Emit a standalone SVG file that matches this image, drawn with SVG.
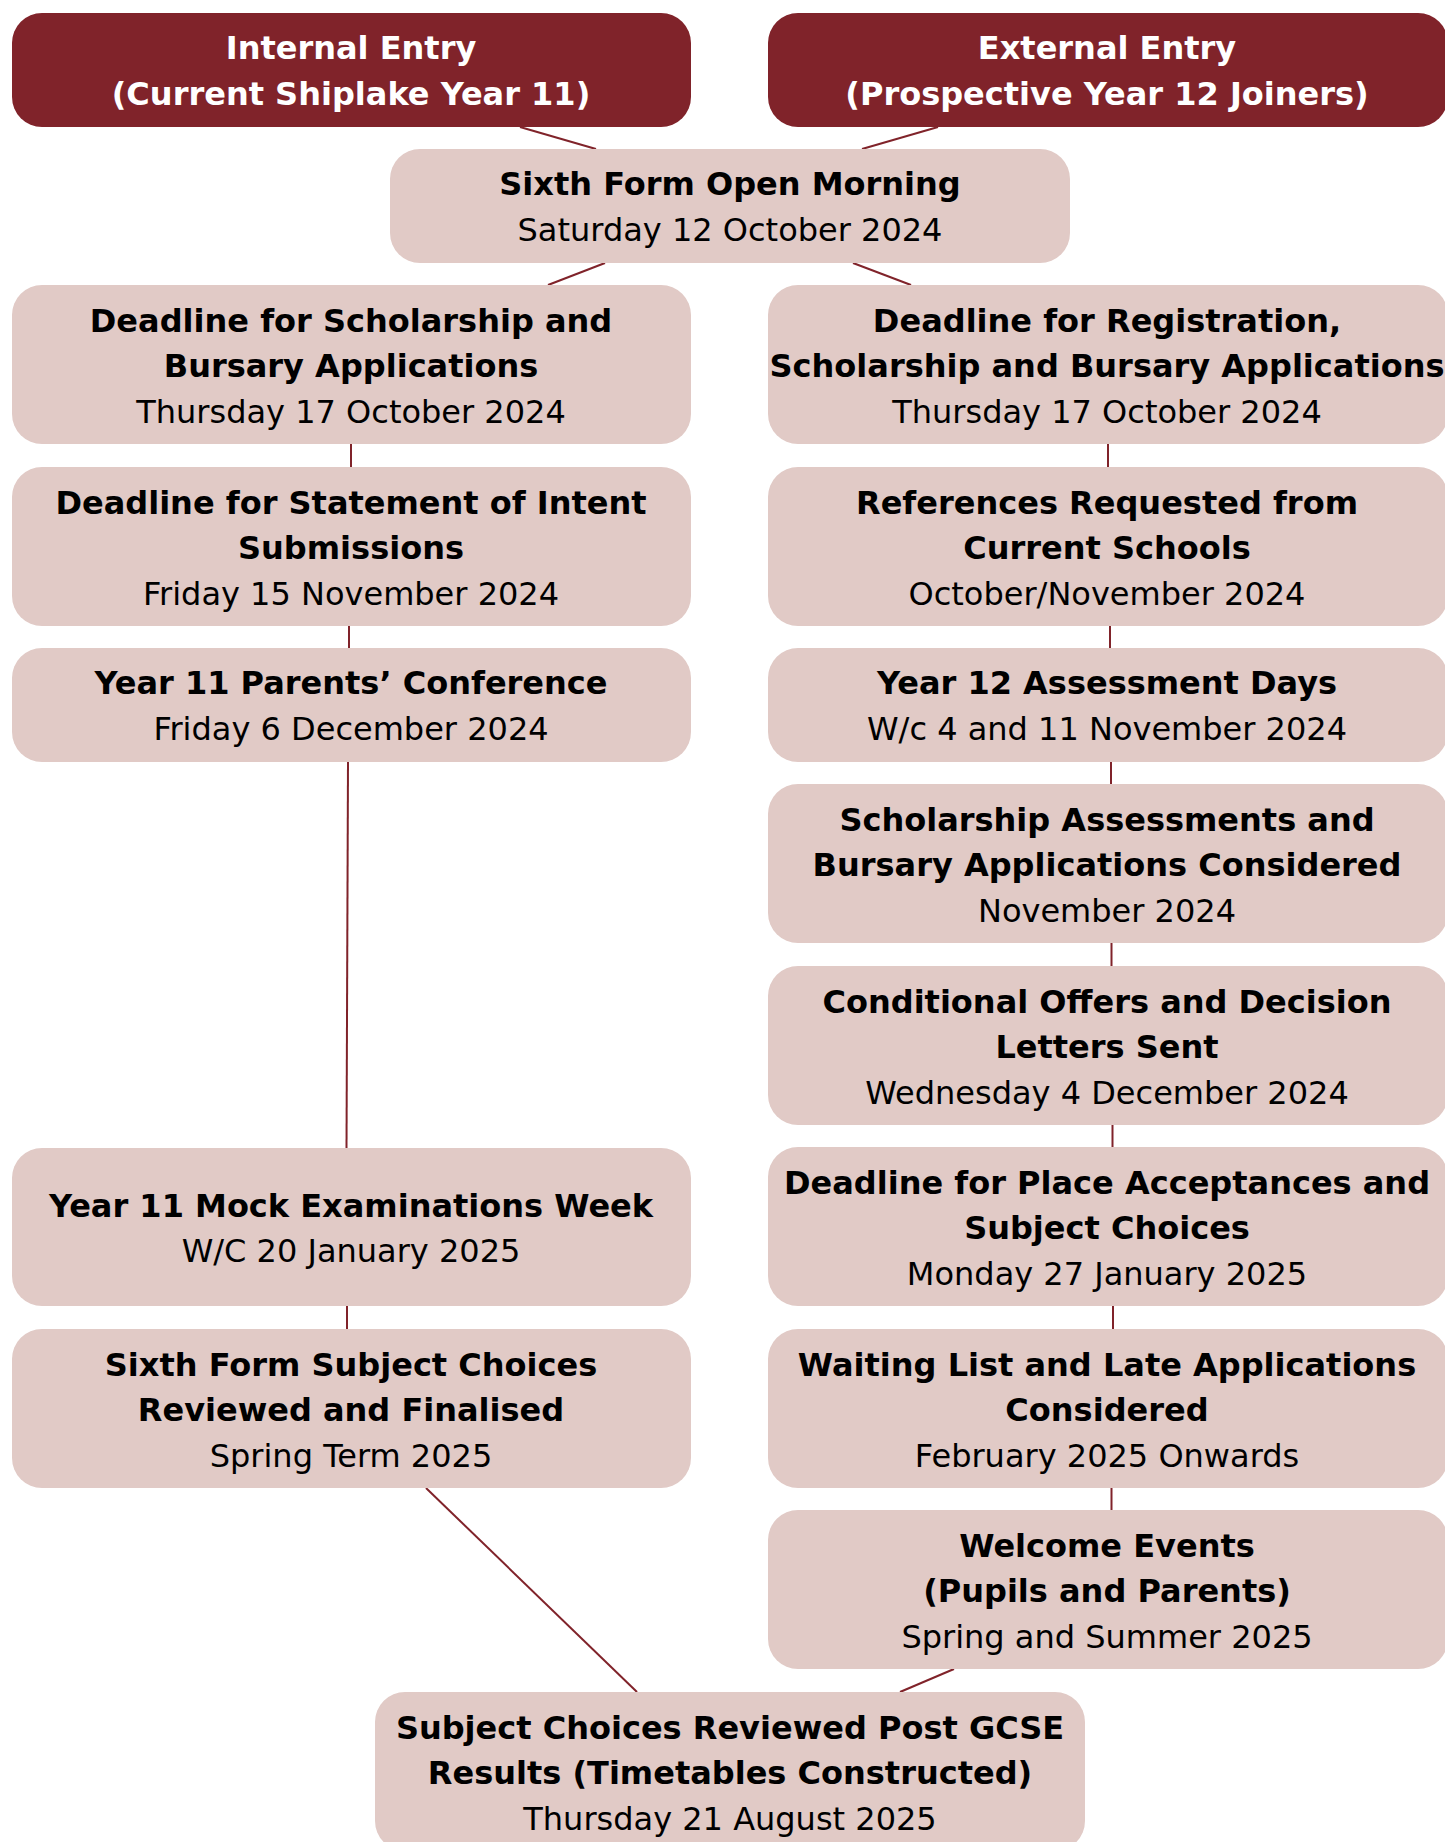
<svg xmlns="http://www.w3.org/2000/svg" width="1445" height="1842" viewBox="0 0 1445 1842">
<style>
.dark{fill:#80232A}
.light{fill:#E1CAC6}
text{font-family:"DejaVu Sans",Verdana,sans-serif;font-size:32px;text-anchor:middle}
.b{font-weight:bold;fill:#000}
.r{font-weight:normal;fill:#000}
.w{font-weight:bold;fill:#fff}
#connectors line{stroke:#80232A;stroke-width:2}
</style>
<rect width="1445" height="1842" fill="#fff"/>
<g id="connectors">
<line x1="520" y1="127" x2="596" y2="149"/>
<line x1="938" y1="127" x2="862" y2="149"/>
<line x1="605" y1="263" x2="548" y2="285"/>
<line x1="853" y1="263" x2="911" y2="285"/>
<line x1="351" y1="444" x2="351" y2="467"/>
<line x1="349" y1="626" x2="349" y2="648"/>
<line x1="348" y1="762" x2="346.5" y2="1148"/>
<line x1="347" y1="1306" x2="347" y2="1329"/>
<line x1="426" y1="1488" x2="637" y2="1692"/>
<line x1="1108" y1="444" x2="1108" y2="467"/>
<line x1="1110" y1="626" x2="1110" y2="648"/>
<line x1="1111" y1="762" x2="1111" y2="784"/>
<line x1="1111.5" y1="943" x2="1111.5" y2="966"/>
<line x1="1112.5" y1="1125" x2="1112.5" y2="1147"/>
<line x1="1113" y1="1306" x2="1113" y2="1329"/>
<line x1="1111.5" y1="1488" x2="1111.5" y2="1510"/>
<line x1="954" y1="1669" x2="900" y2="1692"/>
</g>
<g id="internal-entry">
<rect class="dark" x="12" y="13" width="679" height="114" rx="30"/>
<text class="w" x="351" y="59">Internal Entry</text>
<text class="w" x="351" y="105">(Current Shiplake Year 11)</text>
</g>
<g id="external-entry">
<rect class="dark" x="768" y="13" width="680" height="114" rx="30"/>
<text class="w" x="1107" y="59">External Entry</text>
<text class="w" x="1107" y="105">(Prospective Year 12 Joiners)</text>
</g>
<g id="open-morning">
<rect class="light" x="390" y="149" width="680" height="114" rx="30"/>
<text class="b" x="730" y="195">Sixth Form Open Morning</text>
<text class="r" x="730" y="241">Saturday 12 October 2024</text>
</g>
<g id="int-deadline-scholarship">
<rect class="light" x="12" y="285" width="679" height="159" rx="30"/>
<text class="b" x="351" y="332">Deadline for Scholarship and</text>
<text class="b" x="351" y="377">Bursary Applications</text>
<text class="r" x="351" y="423">Thursday 17 October 2024</text>
</g>
<g id="int-statement-intent">
<rect class="light" x="12" y="467" width="679" height="159" rx="30"/>
<text class="b" x="351" y="514">Deadline for Statement of Intent</text>
<text class="b" x="351" y="559">Submissions</text>
<text class="r" x="351" y="605">Friday 15 November 2024</text>
</g>
<g id="int-parents-conference">
<rect class="light" x="12" y="648" width="679" height="114" rx="30"/>
<text class="b" x="351" y="694">Year 11 Parents’ Conference</text>
<text class="r" x="351" y="740">Friday 6 December 2024</text>
</g>
<g id="int-mock-exams">
<rect class="light" x="12" y="1148" width="679" height="158" rx="30"/>
<text class="b" x="351" y="1217">Year 11 Mock Examinations Week</text>
<text class="r" x="351" y="1262">W/C 20 January 2025</text>
</g>
<g id="int-subject-choices">
<rect class="light" x="12" y="1329" width="679" height="159" rx="30"/>
<text class="b" x="351" y="1376">Sixth Form Subject Choices</text>
<text class="b" x="351" y="1421">Reviewed and Finalised</text>
<text class="r" x="351" y="1467">Spring Term 2025</text>
</g>
<g id="ext-deadline-registration">
<rect class="light" x="768" y="285" width="680" height="159" rx="30"/>
<text class="b" x="1107" y="332">Deadline for Registration,</text>
<text class="b" x="1107" y="377">Scholarship and Bursary Applications</text>
<text class="r" x="1107" y="423">Thursday 17 October 2024</text>
</g>
<g id="ext-references">
<rect class="light" x="768" y="467" width="680" height="159" rx="30"/>
<text class="b" x="1107" y="514">References Requested from</text>
<text class="b" x="1107" y="559">Current Schools</text>
<text class="r" x="1107" y="605">October/November 2024</text>
</g>
<g id="ext-assessment-days">
<rect class="light" x="768" y="648" width="680" height="114" rx="30"/>
<text class="b" x="1107" y="694">Year 12 Assessment Days</text>
<text class="r" x="1107" y="740">W/c 4 and 11 November 2024</text>
</g>
<g id="ext-scholarship-assessments">
<rect class="light" x="768" y="784" width="680" height="159" rx="30"/>
<text class="b" x="1107" y="831">Scholarship Assessments and</text>
<text class="b" x="1107" y="876">Bursary Applications Considered</text>
<text class="r" x="1107" y="922">November 2024</text>
</g>
<g id="ext-conditional-offers">
<rect class="light" x="768" y="966" width="680" height="159" rx="30"/>
<text class="b" x="1107" y="1013">Conditional Offers and Decision</text>
<text class="b" x="1107" y="1058">Letters Sent</text>
<text class="r" x="1107" y="1104">Wednesday 4 December 2024</text>
</g>
<g id="ext-place-acceptances">
<rect class="light" x="768" y="1147" width="680" height="159" rx="30"/>
<text class="b" x="1107" y="1194">Deadline for Place Acceptances and</text>
<text class="b" x="1107" y="1239">Subject Choices</text>
<text class="r" x="1107" y="1285">Monday 27 January 2025</text>
</g>
<g id="ext-waiting-list">
<rect class="light" x="768" y="1329" width="680" height="159" rx="30"/>
<text class="b" x="1107" y="1376">Waiting List and Late Applications</text>
<text class="b" x="1107" y="1421">Considered</text>
<text class="r" x="1107" y="1467">February 2025 Onwards</text>
</g>
<g id="ext-welcome-events">
<rect class="light" x="768" y="1510" width="680" height="159" rx="30"/>
<text class="b" x="1107" y="1557">Welcome Events</text>
<text class="b" x="1107" y="1602">(Pupils and Parents)</text>
<text class="r" x="1107" y="1648">Spring and Summer 2025</text>
</g>
<g id="post-gcse">
<rect class="light" x="375" y="1692" width="710" height="159" rx="30"/>
<text class="b" x="730" y="1739">Subject Choices Reviewed Post GCSE</text>
<text class="b" x="730" y="1784">Results (Timetables Constructed)</text>
<text class="r" x="730" y="1830">Thursday 21 August 2025</text>
</g>
</svg>
